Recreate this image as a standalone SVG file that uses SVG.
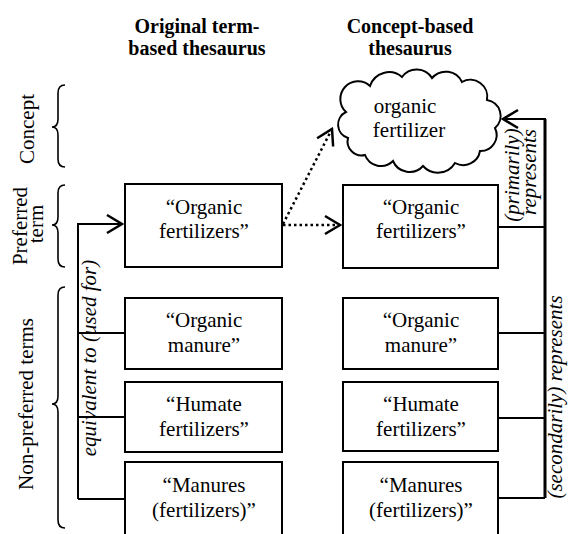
<svg xmlns="http://www.w3.org/2000/svg" width="570" height="534" viewBox="0 0 570 534" font-family="Liberation Serif, serif">
<style>
.t{font-size:21px;text-anchor:middle}
.h{font-size:20px;font-weight:bold;text-anchor:middle}
.i{font-size:21px;font-style:italic;text-anchor:middle}
.box{fill:#fff;stroke:#000;stroke-width:2}
.ln{fill:none;stroke:#000;stroke-width:2}
.thick{fill:none;stroke:#000;stroke-width:3}
.dot{fill:none;stroke:#000;stroke-width:2.5;stroke-dasharray:2.5 3}
.brace{fill:none;stroke:#000;stroke-width:1.6}
</style>
<defs>
<marker id="chev" markerUnits="userSpaceOnUse" viewBox="-18 -12 20 24" markerWidth="20" markerHeight="24" refX="0" refY="0" orient="auto">
<path d="M-15,-9 L0,0 L-15,9" fill="none" stroke="#000" stroke-width="2.5"/>
</marker>
</defs>

<g id="headers">
<text class="h" x="197" y="33">Original term-</text>
<text class="h" x="197" y="55">based thesaurus</text>
<text class="h" x="410" y="33">Concept-based</text>
<text class="h" x="410" y="55">thesaurus</text>
</g>

<g id="side-labels">
<text class="t" transform="rotate(-90 34 129)" x="34" y="129">Concept</text>
<path class="brace" d="M65,85 Q58,85 58,93 L58,119 Q58,127 52,127 Q58,127 58,135 L58,159 Q58,167 65,167"/>
<text class="t" transform="rotate(-90 27 226)" x="27" y="226">Preferred</text>
<text class="t" transform="rotate(-90 43 224)" x="43" y="224">term</text>
<path class="brace" d="M65,185 Q58,185 58,193 L58,217 Q58,225 52,225 Q58,225 58,233 L58,259 Q58,267 65,267"/>
<text class="t" transform="rotate(-90 33 404)" x="33" y="404">Non-preferred terms</text>
<path class="brace" d="M65,287 Q58,287 58,295 L58,396 Q58,404 52,404 Q58,404 58,412 L58,520 Q58,528 65,528"/>
</g>

<g id="connectors">
<path class="ln" d="M78,499 L78,224 L122,224" marker-end="url(#chev)"/>
<path class="ln" d="M78,333 L125,333 M78,417 L125,417 M78,499 L125,499"/>
<path class="thick" d="M545,498 L545,119"/>
<path class="ln" d="M546,119 L503,119" marker-end="url(#chev)"/>
<path class="ln" d="M498,227 L545,227 M498,333 L545,333 M498,418 L545,418 M498,498 L545,498"/>
<path class="dot" d="M283,225 L340,225" marker-end="url(#chev)"/>
<path class="dot" d="M283,224 L332,129" marker-end="url(#chev)"/>
<text class="i" transform="rotate(-90 96 358)" x="96" y="358">equivalent to (used for)</text>
<text class="i" transform="rotate(-90 519 175)" x="519" y="175">(primarily)</text>
<text class="i" transform="rotate(-90 536 172)" x="536" y="172">represents</text>
<text class="i" transform="rotate(-90 562 397)" x="562" y="397">(secondarily) represents</text>
</g>

<g id="concept-cloud">
<path fill="#fff" stroke="#000" stroke-width="2" d="M346,112 A16,16 0 0 1 370,86 A20,20 0 0 1 402,77 A18,18 0 0 1 432,78 A18,18 0 0 1 462,82 A17,17 0 0 1 487,100 A16,16 0 0 1 495,128 A16,16 0 0 1 480,151 A17,17 0 0 1 455,163 A20,20 0 0 1 423,166 A18,18 0 0 1 393,161 A17,17 0 0 1 365,155 A14,14 0 0 1 348,138 A14,14 0 0 1 346,112 Z"/>
<text class="t" x="405" y="113">organic</text>
<text class="t" x="409" y="137">fertilizer</text>
</g>

<g id="left-preferred">
<rect class="box" x="125" y="184" width="157" height="83"/>
<text class="t" x="204" y="214">“Organic</text>
<text class="t" x="204" y="238">fertilizers”</text>
</g>
<g id="left-organic-manure">
<rect class="box" x="125" y="298" width="157" height="71"/>
<text class="t" x="204" y="327">“Organic</text>
<text class="t" x="204" y="352">manure”</text>
</g>
<g id="left-humate">
<rect class="box" x="125" y="382" width="157" height="70"/>
<text class="t" x="204" y="411">“Humate</text>
<text class="t" x="204" y="436">fertilizers”</text>
</g>
<g id="left-manures">
<rect class="box" x="125" y="462" width="157" height="76"/>
<text class="t" x="204" y="492">“Manures</text>
<text class="t" x="204" y="517">(fertilizers)”</text>
</g>

<g id="right-preferred">
<rect class="box" x="343" y="185" width="155" height="83"/>
<text class="t" x="421" y="214">“Organic</text>
<text class="t" x="421" y="238">fertilizers”</text>
</g>
<g id="right-organic-manure">
<rect class="box" x="343" y="298" width="155" height="71"/>
<text class="t" x="421" y="327">“Organic</text>
<text class="t" x="421" y="352">manure”</text>
</g>
<g id="right-humate">
<rect class="box" x="343" y="382" width="155" height="69"/>
<text class="t" x="421" y="411">“Humate</text>
<text class="t" x="421" y="436">fertilizers”</text>
</g>
<g id="right-manures">
<rect class="box" x="343" y="462" width="155" height="76"/>
<text class="t" x="421" y="492">“Manures</text>
<text class="t" x="421" y="517">(fertilizers)”</text>
</g>
</svg>
